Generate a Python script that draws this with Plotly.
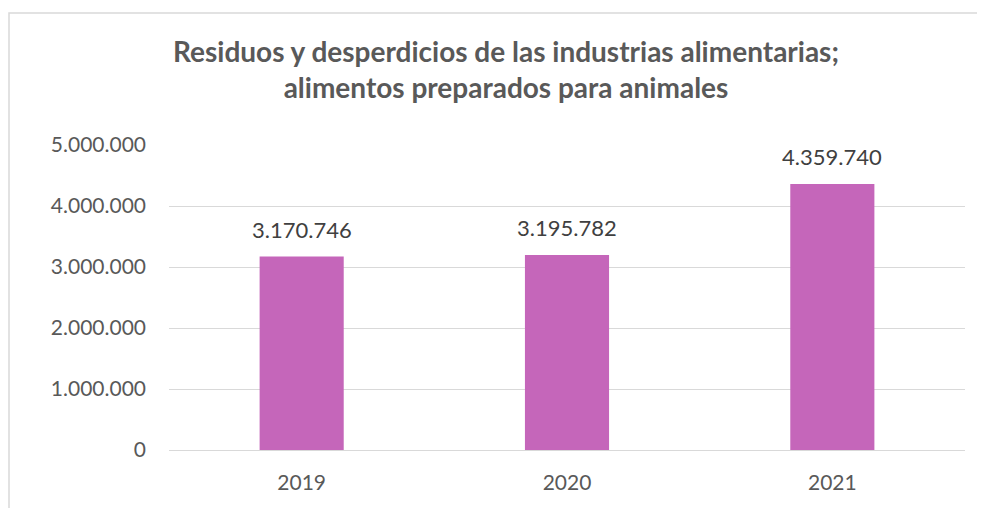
import plotly.graph_objects as go

years = ["2019", "2020", "2021"]
values = [3170746, 3195782, 4359740]
tick_vals = [0, 1000000, 2000000, 3000000, 4000000, 5000000]

# page body has an 8px margin; layout is given in figure pixels
OFF = 8
W, H = 985, 508
L, T = 169 - OFF, 145 - OFF
R = W - (965 - OFF)
B = H - (450 - OFF)
pw = W - L - R
ph = H - T - B

def px_x(x):
    return (x - L) / pw

def px_y(y):
    return (H - B - y) / ph

FONT = "Lato, Carlito, sans-serif"

fig = go.Figure(go.Bar(
    x=years, y=values,
    marker=dict(color="#C566BA", line=dict(width=0)),
    width=0.317,
    hoverinfo="x+y",
))

# numeric-looking category names are read as indices by annotations, so use the index
for i, v in enumerate(values):
    fig.add_annotation(
        x=i, y=v, xref="x", yref="y",
        text=f"{v:,}".replace(",", "."),
        showarrow=False, yanchor="bottom", yshift=12,
        font=dict(family=FONT, size=22, color="#404040"),
    )

fig.update_layout(
    width=W, height=H,
    margin=dict(l=L, r=R, t=T, b=B),
    paper_bgcolor="white", plot_bgcolor="white",
    separators=",.",
    showlegend=False,
    title=dict(
        text="<b>Residuos y desperdicios de las industrias alimentarias;<br>alimentos preparados para animales</b>",
        x=(506 - OFF) / W, xanchor="center", xref="container",
        y=1 - (62 - OFF) / H, yanchor="middle",
        font=dict(family=FONT, size=28, color="#595959"),
    ),
    font=dict(family=FONT, color="#595959"),
)
fig.update_xaxes(
    type="category", range=[-0.5, len(years) - 0.5],
    showgrid=False, showline=True, linecolor="#D9D9D9", linewidth=1,
    ticks="", ticklabelstandoff=14, tickfont=dict(size=21, color="#595959"),
)
fig.update_yaxes(
    range=[0, 5000000], tickvals=tick_vals, tickformat=",d",
    showgrid=True, gridcolor="#D9D9D9", gridwidth=1,
    zeroline=True, zerolinecolor="#D9D9D9", zerolinewidth=1,
    showline=False, ticks="", ticklabelstandoff=22,
    tickfont=dict(size=21, color="#595959"),
)
fig.add_shape(
    type="rect", xref="paper", yref="paper",
    x0=px_x(1), x1=px_x(W + 40), y0=px_y(H + 40), y1=px_y(13 - OFF),
    line=dict(color="#D9D9D9", width=1.5), fillcolor="rgba(0,0,0,0)", layer="below",
)

fig.write_html("out.html")
